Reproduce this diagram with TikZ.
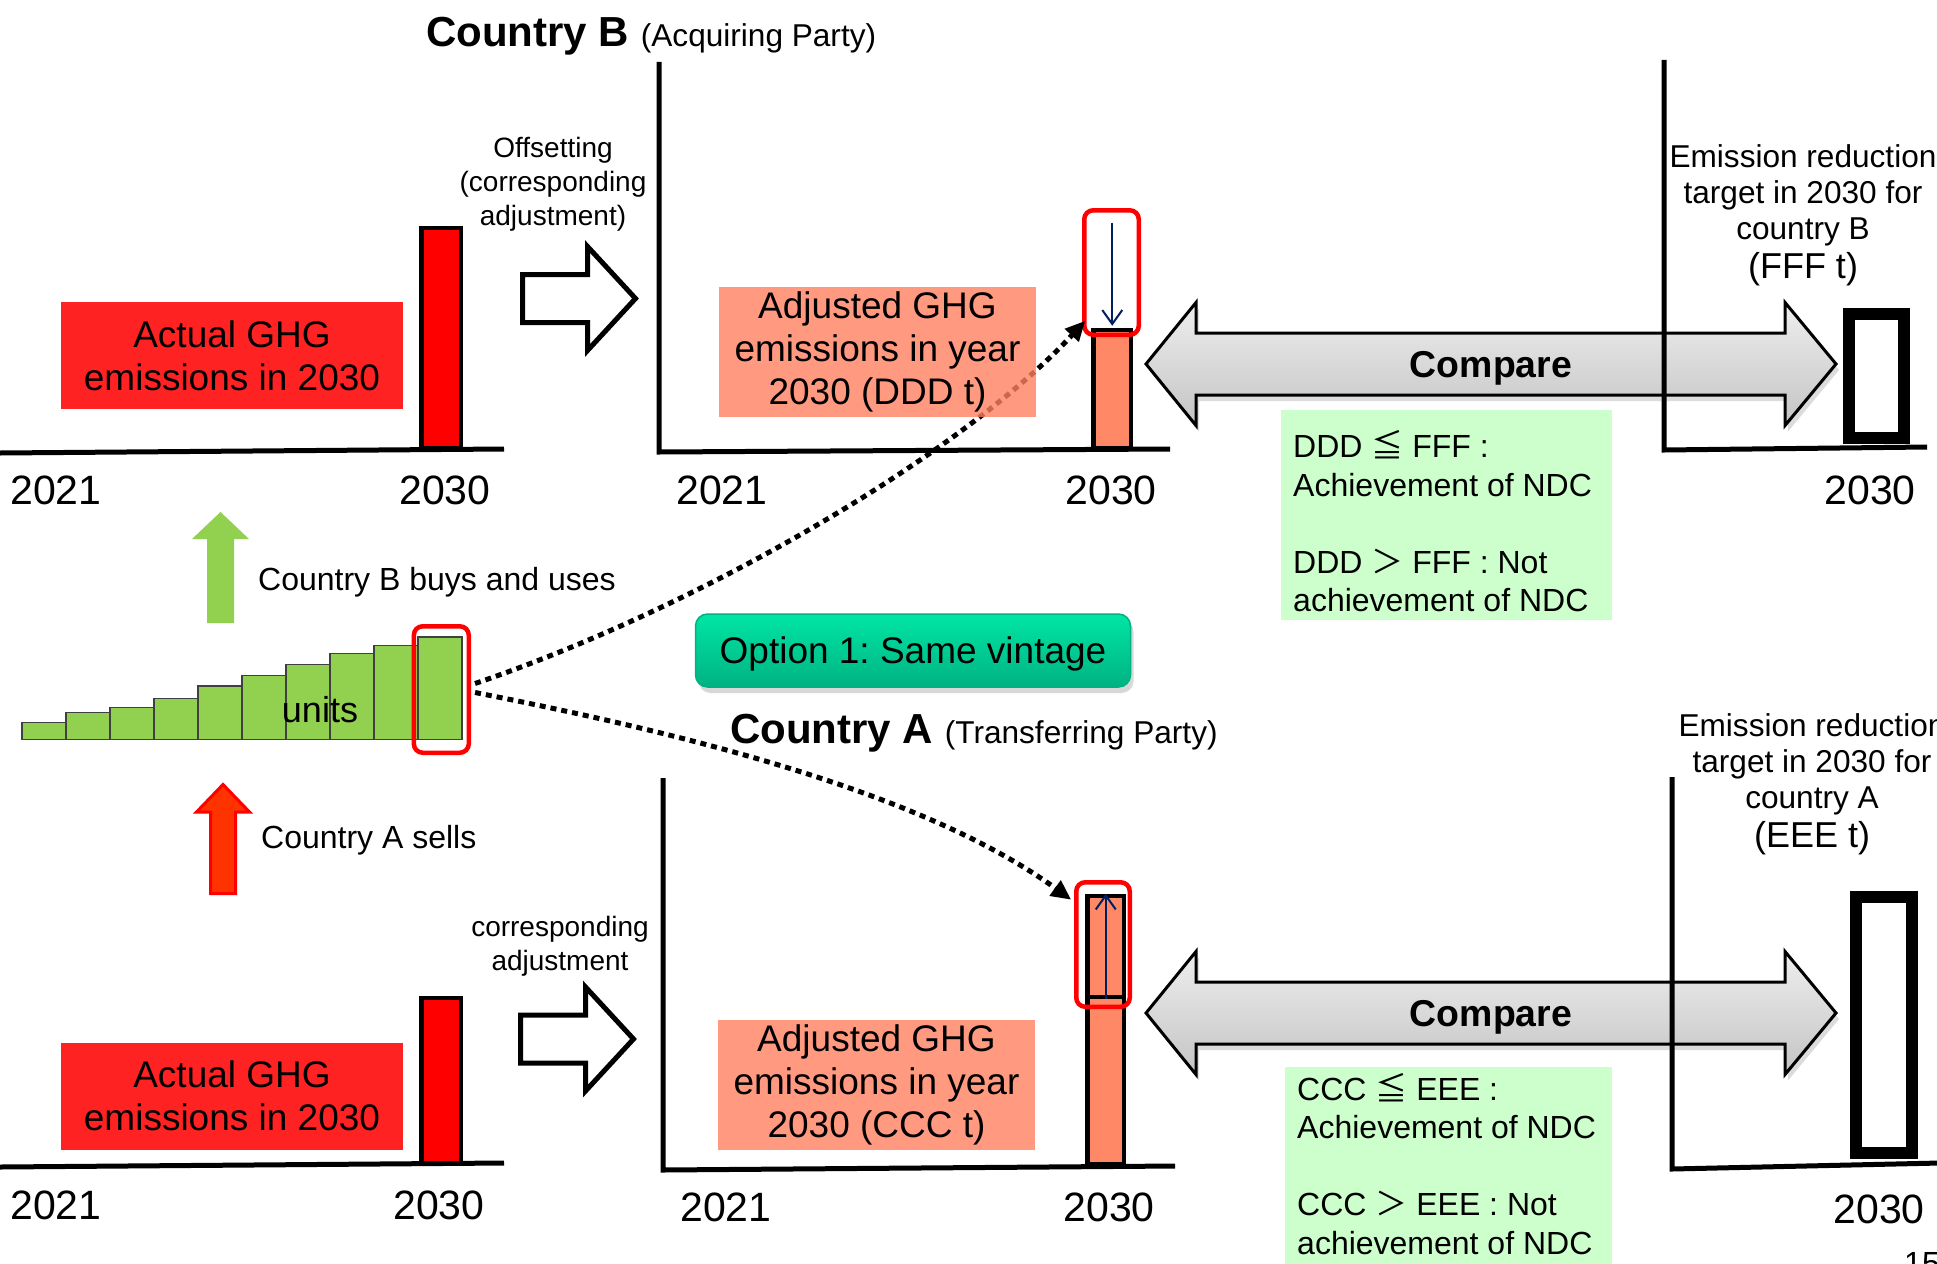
\documentclass[tikz,border=0pt]{standalone}
\usepackage{fontspec}
\setmainfont{Liberation Sans}
\newfontfamily\cjkfont{Noto Sans CJK JP}
\usetikzlibrary{arrows.meta,calc,shadows}
\frenchspacing
\definecolor{redbox}{RGB}{255,34,34}
\definecolor{barred}{RGB}{255,0,0}
\definecolor{coral}{RGB}{255,128,96}
\definecolor{barcoral}{RGB}{255,136,102}
\definecolor{condgreen}{RGB}{204,255,204}
\definecolor{unitgreen}{RGB}{146,208,80}
\definecolor{navy}{RGB}{0,32,96}
\definecolor{optTop}{RGB}{0,230,164}
\definecolor{optBot}{RGB}{0,178,130}
\definecolor{arrTop}{RGB}{238,238,238}
\definecolor{arrBot}{RGB}{196,196,196}
\definecolor{sellred}{RGB}{255,51,0}
\tikzset{
  year/.style={font=\fontsize{41}{49}\selectfont, anchor=base, inner sep=0pt},
  axisline/.style={line width=5pt, line join=miter},
  lbl/.style={font=\fontsize{37}{43}\selectfont, align=center, inner sep=0pt},
  actualbox/.style={lbl, fill=redbox, minimum width=342pt, minimum height=107pt},
  adjbox/.style={lbl, fill=coral, fill opacity=0.8, text opacity=1, minimum width=317pt, minimum height=130pt},
  emisbar/.style={draw=black, line width=4.5pt, inner sep=0pt, anchor=south west},
  selbox/.style={draw=red, line width=4.5pt, rounded corners=9pt, inner sep=0pt},
  tgtbar/.style={draw=black, fill=white, line width=12pt, inner sep=0pt, anchor=south west},
  unitbar/.style={draw=black!75, line width=1.5pt, fill=unitgreen, minimum width=44pt, inner sep=0pt, anchor=south west},
  dotconn/.style={line width=5pt, dash pattern=on 6pt off 5pt, -{Triangle[length=20pt,width=18pt]}},
  adjarrow/.style={draw=navy, line width=2pt, -{Straight Barb[length=14pt,width=20pt,line width=2pt]}},
  smalltext/.style={font=\fontsize{28}{34}\selectfont, align=center, inner sep=0pt},
  tgttext/.style={font=\fontsize{31.6}{36}\selectfont, align=center, inner sep=0pt},
  cond/.style={font=\fontsize{32}{38.5}\selectfont, align=left, inner sep=0pt},
  condbox/.style={fill=condgreen, inner sep=0pt, anchor=north west},
  side/.style={font=\fontsize{32}{38}\selectfont, anchor=base west, inner sep=0pt},
  cmptext/.style={font=\fontsize{37.4}{44}\selectfont\bfseries, text height=26.8pt, text depth=0pt, inner sep=0pt},
  optbox/.style={font=\fontsize{37}{44}\selectfont, text height=26.5pt, text depth=0pt, inner sep=0pt,
    minimum width=435pt, minimum height=73pt, rounded corners=12pt, top color=optTop, bottom color=optBot,
    draw=optBot, line width=1.5pt,
    drop shadow={shadow xshift=3pt, shadow yshift=-6pt, opacity=0.3, fill=black!50}},
  hollow/.pic={\draw[line width=5pt, fill=white, line join=miter]
    (0,-24) -- (65,-24) -- (65,-52) -- (113,0) -- (65,52) -- (65,24) -- (0,24) -- cycle;},
  cmparrow/.pic={\draw[line width=3pt, line join=miter, top color=arrTop, bottom color=arrBot,
    drop shadow={shadow xshift=3pt, shadow yshift=-6pt, opacity=0.3, fill=black!45}]
    (0,0) -- (50,-61.5) -- (50,-31) -- (639,-31) -- (639,-61.5) -- (690,0) -- (639,61.5) -- (639,31) -- (50,31) -- (50,61.5) -- cycle;}
}
\begin{document}
\begin{tikzpicture}[x=1pt,y=-1pt]
\useasboundingbox (0,0) rectangle (1937,1263);
\clip (0,0) rectangle (1937,1263);
\fill[white] (0,0) rectangle (1937,1263);

% compare arrows
\pic at (1146,364) {cmparrow};
\pic at (1146,1013) {cmparrow};

% axes
\draw[axisline] (659,62) -- (659,452) -- (1170,449);
\draw[axisline] (1664,60) -- (1664,450) -- (1927,447);
\draw[axisline] (0,453) -- (504,449);
\draw[axisline] (663,778) -- (663,1170) -- (1175,1166);
\draw[axisline] (1672,777) -- (1672,1169) -- (1940,1163);
\draw[axisline] (0,1167) -- (504,1163);

% emission bars
\node[emisbar, fill=barred, minimum width=39.5pt, minimum height=219.75pt] (actB) at (419.25,450) {};
\node[emisbar, fill=barred, minimum width=39.5pt, minimum height=164.75pt] (actA) at (419.25,1165) {};
\node[emisbar, fill=barcoral, minimum width=37.5pt, minimum height=117.75pt] (adjB) at (1091.25,450) {};
\node[emisbar, fill=barcoral, minimum width=36.5pt, minimum height=167pt] (adjAlow) at (1085.25,1166) {};
\node[emisbar, fill=barcoral, minimum width=36.5pt, minimum height=100.75pt] (adjAtop) at (1085.25,999) {};
\node[tgtbar, minimum width=55pt, minimum height=124.5pt] (tgtB) at (1843,444) {};
\node[tgtbar, minimum width=56pt, minimum height=256pt] (tgtA) at (1850,1159) {};

% units
\foreach \i/\h in {1/16.7,2/26.7,3/31.7,4/40.7,5/53.3,6/64,7/74.7,8/85.7,9/94,10/102.3}
  \node[unitbar, minimum height=\h pt] (u\i) at ({21.4+(\i-1)*44},740) {};
\node[font=\fontsize{36}{40}\selectfont, anchor=base, inner sep=0pt] (units) at (320,722) {units};

% selection frames
\node[selbox, minimum width=54.5pt, minimum height=124.5pt] (selB) at (1111.5,272.5) {};
\node[selbox, minimum width=53.5pt, minimum height=124.5pt] (selA) at (1103,944.5) {};
\node[selbox, minimum width=55pt, minimum height=126.5pt] (selU) at (441.3,689.5) {};

% adjustment arrows
\draw[adjarrow] ($(adjB.north)+(0,-105)$) -- ($(adjB.north)+(0,-2)$);
\draw[adjarrow] (adjAtop.south) -- (adjAtop.north);

% buy / sell arrows
\fill[unitgreen] (220.5,512) -- (249,539) -- (234,539) -- (234,623) -- (207,623) -- (207,539) -- (192,539) -- cycle;
\filldraw[fill=sellred, draw=red, line width=3pt] (223,784.5) -- (249.5,812) -- (235.5,812) -- (235.5,893.5) -- (210.5,893.5) -- (210.5,812) -- (196.5,812) -- cycle;
\node[side] (buys) at (258,590) {Country B buys and uses};
\node[side] (sells) at (261,848) {Country A sells};

% actual labels
\node[actualbox] (lblActB) at (232,355.5) {Actual GHG\\emissions in 2030};
\node[actualbox] (lblActA) at (232,1096) {Actual GHG\\emissions in 2030};

% dotted connectors
\draw[dotconn] ($(selU.east)+(4,-6)$) .. controls (706,605) and (965,451) .. ($(adjB.north west)+(-6,-7)$);
\draw[dotconn] ($(selU.east)+(4,3)$) .. controls (676,732) and (920,790) .. ($(adjAtop.north west)+(-14,6)$);

% adjusted labels
\node[adjbox] (lblAdjB) at (877.5,352) {Adjusted GHG\\emissions in year\\2030 (DDD t)};
\node[adjbox] (lblAdjA) at (876.5,1084.5) {Adjusted GHG\\emissions in year\\2030 (CCC t)};

% hollow arrows and their texts
\pic at (522.5,298.5) {hollow};
\pic at (520.5,1039) {hollow};
\node[smalltext, anchor=north] (offs) at (553,137.5) {Offsetting\\(corresponding\\adjustment)};
\node[smalltext, anchor=north] (corr) at (560,916) {corresponding\\adjustment};

% titles
\node[anchor=base west, inner sep=0pt] (titleB) at (426,47) {{\fontsize{42}{50}\selectfont\bfseries Country B }{\fontsize{31.6}{38}\selectfont (Acquiring Party)}};
\node[anchor=base west, inner sep=0pt] (titleA) at (730,743) {{\fontsize{42}{50}\selectfont\bfseries Country A }{\fontsize{31.6}{38}\selectfont (Transferring Party)}};

% option box
\node[optbox] (opt) at (913,650.5) {Option 1: Same vintage};

% compare texts
\node[cmptext] (cmpB) at (1491,364) {Compare};
\node[cmptext] (cmpA) at (1491,1013) {Compare};

% condition boxes
\node[condbox, minimum width=331pt, minimum height=210pt] (condB) at (1281,410) {};
\node[condbox, minimum width=327pt, minimum height=200pt] (condA) at (1285,1067) {};
\node[cond, anchor=west] (condBtext) at (1293,521.5) {DDD {\cjkfont ≦} FFF :\\Achievement of NDC\\[38.5pt]DDD {\cjkfont ＞} FFF : Not\\achievement of NDC};
\node[cond, anchor=west] (condAtext) at (1297,1164) {CCC {\cjkfont ≦} EEE :\\Achievement of NDC\\[38.5pt]CCC {\cjkfont ＞} EEE : Not\\achievement of NDC};

% target texts
\node[tgttext, anchor=north] (tgtBtext) at (1803,144) {Emission reduction\\target in 2030 for\\country B\\[3pt]{\fontsize{36}{40}\selectfont (FFF t)}};
\node[tgttext, anchor=north] (tgtAtext) at (1812,713) {Emission reduction\\target in 2030 for\\country A\\[3pt]{\fontsize{36}{40}\selectfont (EEE t)}};

% years
\node[year] at (56,504) {2021};
\node[year] at (445,504) {2030};
\node[year] at (722,504) {2021};
\node[year] at (1111,504) {2030};
\node[year] at (1870,504) {2030};
\node[year] at (56,1219) {2021};
\node[year] at (439,1219) {2030};
\node[year] at (726,1221) {2021};
\node[year] at (1109,1221) {2030};
\node[year] at (1879,1223) {2030};

% page number (cut off)
\node[anchor=base west, font=\fontsize{32}{38}\selectfont, inner sep=0pt] (pnum) at (1904,1274) {15};
\end{tikzpicture}
\end{document}
